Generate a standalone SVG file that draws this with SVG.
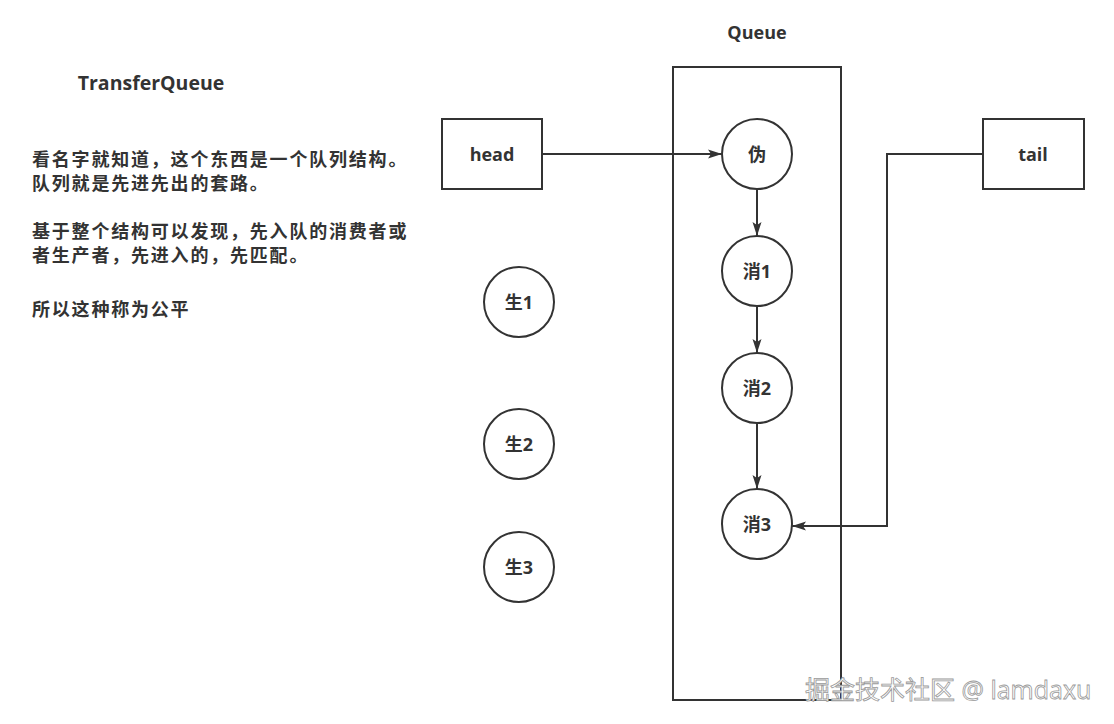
<svg xmlns="http://www.w3.org/2000/svg" width="1114" height="724" viewBox="0 0 1114 724">
<defs>
<style>
.box{fill:#fff;stroke:#333;stroke-width:2}
.c{fill:#fff;stroke:#333;stroke-width:2}
.ln{fill:none;stroke:#333;stroke-width:2}
.t{font-family:"Open Sans","Noto Sans CJK SC",sans-serif;font-weight:bold;font-size:18px;fill:#333;text-anchor:middle;dominant-baseline:central}
.p{font-family:"Open Sans","Noto Sans CJK SC",sans-serif;font-weight:bold;font-size:18px;letter-spacing:1.8px;fill:#333}
.wm{font-family:"Open Sans","Noto Sans CJK SC",sans-serif;font-size:25px;fill:#fff;stroke:#999;stroke-width:0.8}
</style>
<marker id="a" viewBox="0 0 14 10" refX="14" refY="5" markerWidth="14" markerHeight="10" orient="auto" markerUnits="userSpaceOnUse">
<path d="M0,0.5 L14,5 L0,9.5 L3,5 Z" fill="#333"/>
</marker>
</defs>
<rect width="1114" height="724" fill="#fff"/>
<g id="queue">
<rect class="box" x="673" y="67" width="168" height="633"/>
<text class="t" x="757" y="32">Queue</text>
</g>
<g id="title"><text class="t" x="151" y="82" style="font-size:19.5px">TransferQueue</text></g>
<g id="desc">
<text class="p" x="32" y="166">看名字就知道，这个东西是一个队列结构。</text>
<text class="p" x="32" y="190">队列就是先进先出的套路。</text>
<text class="p" x="32" y="238">基于整个结构可以发现，先入队的消费者或</text>
<text class="p" x="32" y="262">者生产者，先进入的，先匹配。</text>
<text class="p" x="32" y="316">所以这种称为公平</text>
</g>
<g id="connectors">
<path class="ln" d="M542,154 H722" marker-end="url(#a)"/>
<path class="ln" d="M757,189 V236" marker-end="url(#a)"/>
<path class="ln" d="M757,306 V353" marker-end="url(#a)"/>
<path class="ln" d="M757,423 V489" marker-end="url(#a)"/>
<path class="ln" d="M983,154 H887 V526 H792" marker-end="url(#a)"/>
</g>
<g id="head"><rect class="box" x="442" y="119" width="100" height="70"/><text class="t" x="492" y="154">head</text></g>
<g id="tail"><rect class="box" x="983" y="119" width="101" height="70"/><text class="t" x="1033" y="154">tail</text></g>
<g id="wei"><circle class="c" cx="757" cy="154" r="35"/><text class="t" x="757" y="154">伪</text></g>
<g id="xiao1"><circle class="c" cx="757" cy="271" r="35"/><text class="t" x="757" y="271">消1</text></g>
<g id="xiao2"><circle class="c" cx="757" cy="388" r="35"/><text class="t" x="757" y="388">消2</text></g>
<g id="xiao3"><circle class="c" cx="757" cy="524" r="35"/><text class="t" x="757" y="524">消3</text></g>
<g id="sheng1"><circle class="c" cx="519" cy="302" r="35"/><text class="t" x="519" y="302">生1</text></g>
<g id="sheng2"><circle class="c" cx="519" cy="444" r="35"/><text class="t" x="519" y="444">生2</text></g>
<g id="sheng3"><circle class="c" cx="519" cy="567" r="35"/><text class="t" x="519" y="567">生3</text></g>
<g id="watermark"><text class="wm" x="805" y="699">掘金技术社区 @ lamdaxu</text></g>
</svg>
